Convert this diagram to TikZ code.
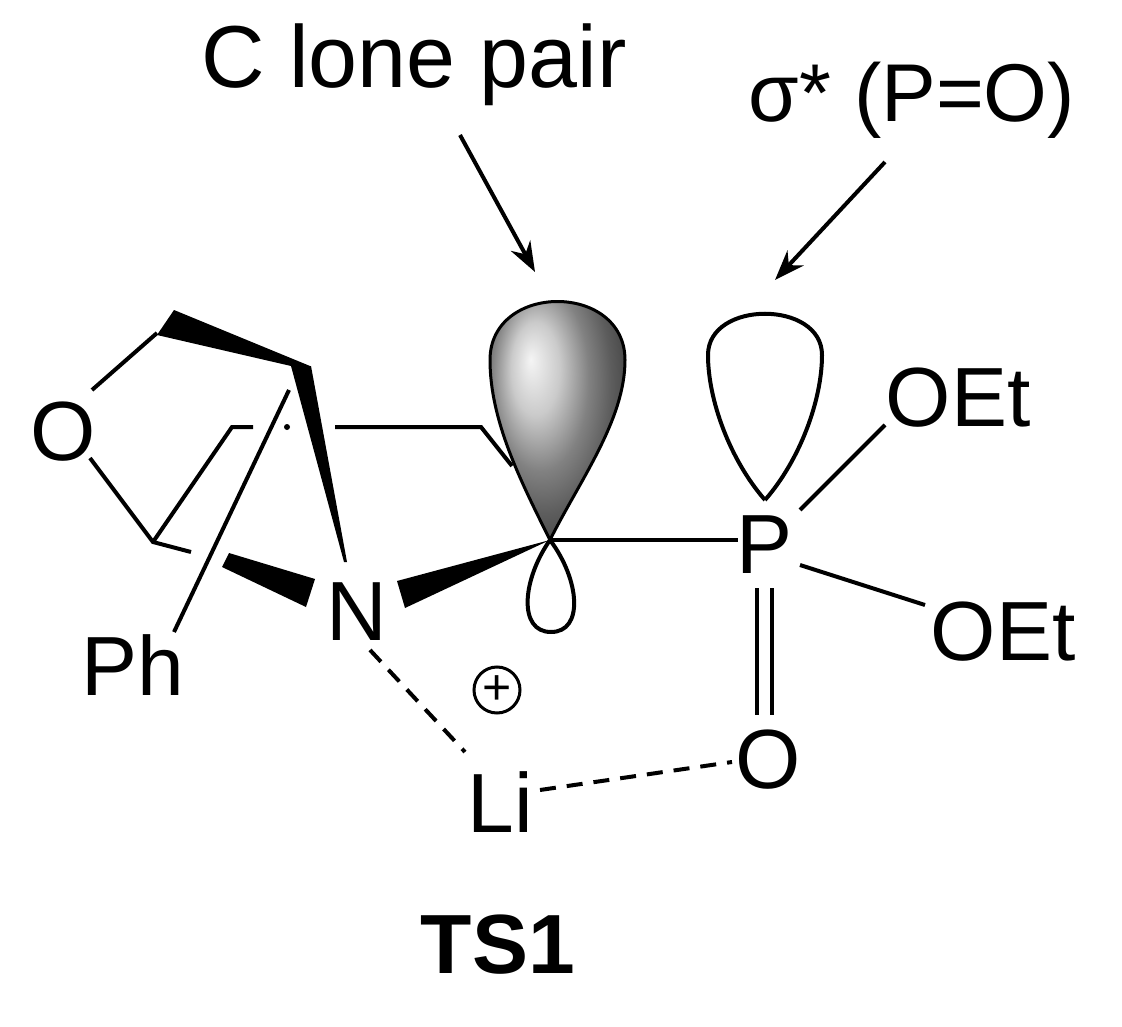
\documentclass[tikz,border=0pt]{standalone}
\usepackage{fontspec}
\setmainfont{Liberation Sans}
\usetikzlibrary{arrows.meta}
\begin{document}
\begin{tikzpicture}[x=1pt,y=-1pt,line width=4pt,
  atom/.style={font=\fontsize{84}{84}\selectfont,inner sep=0pt},
  bond/.style={line width=4pt},
  dbond/.style={line width=4pt,dash pattern=on 16pt off 11pt},
  wedge/.style={fill=black,draw=none},
  lobe/.style={line width=4pt},
  pointer/.style={line width=4pt,-{Stealth[length=30pt,width=22pt]}}]
\useasboundingbox (0,0) rectangle (1122,1027);
% labels
\node[atom] (O1) at (63,432) {O};
\node[atom] (N) at (357,612) {N};
\node[atom] (Ph) at (133,665) {Ph};
\node[atom] (P) at (765,545) {P};
\node[atom] (OEt1) at (958,398) {OEt};
\node[atom] (OEt2) at (1003,632) {OEt};
\node[atom] (O2) at (768,760) {O};
\node[atom] (Li) at (500,802) {Li};
\node[font=\fontsize{88}{88}\selectfont,inner sep=0pt] (cl) at (414,65) {C lone pair};
\node[font=\fontsize{82}{82}\selectfont,inner sep=0pt] (sig) at (912,100) {σ* (P=O)};
\node[font=\bfseries\fontsize{84}{84}\selectfont,inner sep=0pt] (ts) at (498,945) {TS1};
\node[circle,draw,line width=3pt,minimum size=46pt,inner sep=0pt,font=\fontsize{50}{50}\selectfont] (plus) at (497,690) {+};
% coordinates
\coordinate (C1) at (157,333);
\coordinate (C2) at (300,368);
\coordinate (C3) at (153,542);
\coordinate (Cc) at (550,540);
\coordinate (Pw) at (738,540);
\coordinate (Plobe) at (765,500);
% ring bonds
\draw[bond] (92,390) -- (C1);
\draw[bond] (90,458) -- (C3) -- (191,552);
\fill[wedge] (174,310) -- (157,335) -- (291,366) -- (310,366) -- cycle;
\fill[wedge] (291,366) -- (311,366) -- (347,562) -- (344,562) -- cycle;
\fill[wedge] (222,567) -- (229,553) -- (315,579) -- (306,607) -- cycle;
\fill[wedge] (397,581) -- (405,608) -- (Cc) -- cycle;
\draw[bond] (289,390) -- (174,632);
\draw[bond] (253,427) -- (232,427) -- (C3);
\fill (287,427) circle (3);
\draw[bond] (335,427) -- (481,427) -- (512,466);
% lobes
\draw[lobe] (Cc) .. controls (522,580) and (518,632) .. (551,632) .. controls (584,632) and (580,580) .. (Cc);
\shade[ball color=gray!55, draw=black, line width=3pt] (Cc) .. controls (520,480) and (490,420) .. (490,360) .. controls (490,282) and (625,282) .. (625,360) .. controls (625,420) and (580,480) .. (Cc);
\draw[lobe] (Plobe) .. controls (730,460) and (708,400) .. (708,355) .. controls (708,300) and (822,300) .. (822,355) .. controls (822,400) and (800,460) .. (Plobe);
% P bonds
\draw[bond] (Cc) -- (Pw);
\draw[bond] (800,510) -- (885,425);
\draw[bond] (800,565) -- (925,605);
\draw[bond] (757,588) -- (757,715);
\draw[bond] (772,588) -- (772,715);
% dashed
\draw[dbond] (370,650) -- (465,752);
\draw[dbond] (540,790) -- (732,762);
% arrows
\draw[pointer] (460,135) -- (535,272);
\draw[pointer] (885,162) -- (775,280);
\end{tikzpicture}
\end{document}
